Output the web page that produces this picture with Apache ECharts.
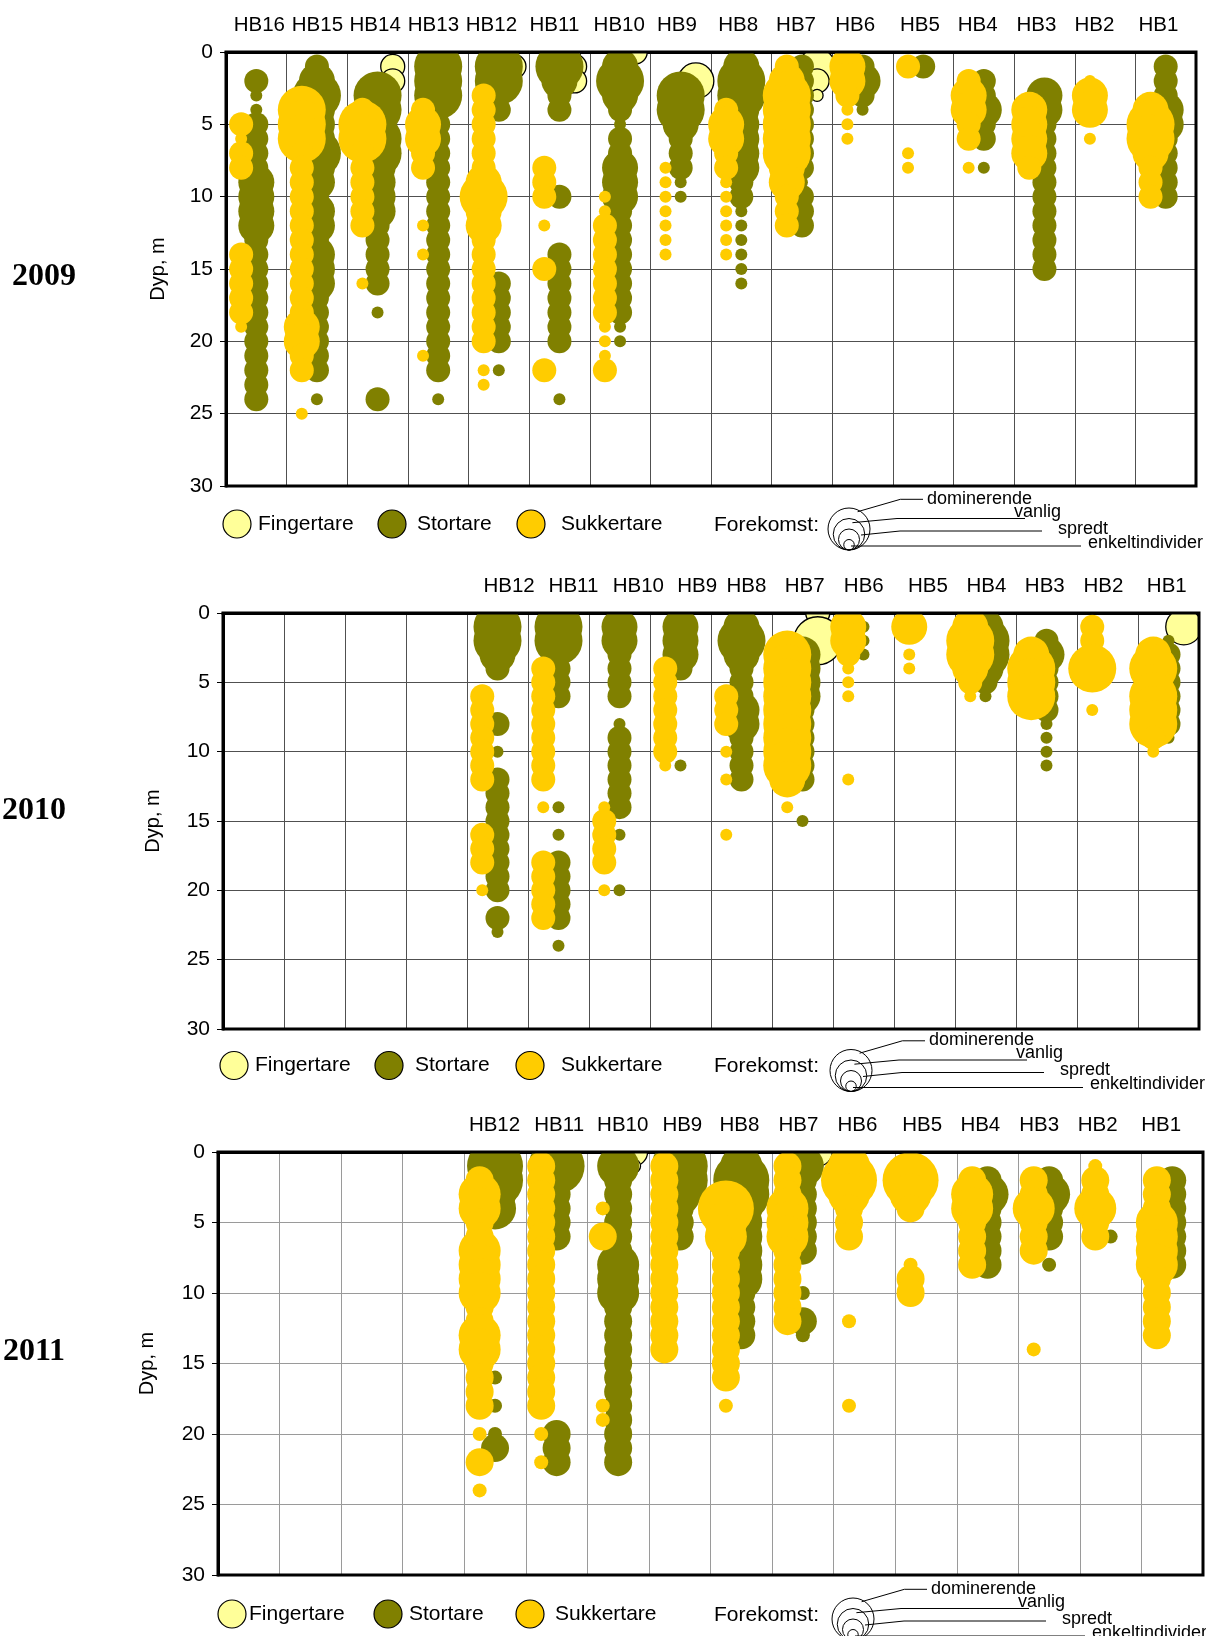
<!DOCTYPE html>
<html><head><meta charset="utf-8">
<script src="https://cdn.jsdelivr.net/npm/echarts@6/dist/echarts.min.js"></script>
<style>html,body{margin:0;padding:0;background:#fff}#c{width:1206px;height:1636px}</style>
</head><body><div id="c"></div><script>
// ---------------- DATA ----------------
const stations = ['HB16','HB15','HB14','HB13','HB12','HB11','HB10','HB9','HB8','HB7','HB6','HB5','HB4','HB3','HB2','HB1'];
const labels2009 = ['HB16','HB15','HB14','HB13','HB12','HB11','HB10','HB9','HB8','HB7','HB6','HB5','HB4','HB3','HB2','HB1'];
const labels2010 = ['','','','','HB12','HB11','HB10','HB9','HB8','HB7','HB6','HB5','HB4','HB3','HB2','HB1'];
const labels2011 = ['','','','','HB12','HB11','HB10','HB9','HB8','HB7','HB6','HB5','HB4','HB3','HB2','HB1'];
const depthTicks = [0,5,10,15,20,25,30];
const years = ['2009','2010','2011'];
const speciesNames = ['Fingertare','Stortare','Sukkertare'];
const levelNames = ['dominerende','vanlig','spredt','enkeltindivider']; // level 4,3,2,1
// [station, [[depth m, level 1..4], ...]]  level: 1 enkeltindivider, 2 spredt, 3 vanlig, 4 dominerende
const finger2009 = [
 ['HB14',[[1,2],[2,2]]], ['HB12',[[1,2]]], ['HB11',[[0,1],[1,2],[2,2]]], ['HB10',[[0,2]]],
 ['HB9',[[2,3]]], ['HB7',[[1,3],[2,2],[3,1]]]
];
const stortare2009 = [
 ['HB16',[[2,2],[3,1],[4,1],[5,2],[6,2],[7,2],[8,2],[9,3],[10,3],[11,3],[12,3],[13,2],[14,2],[15,2],[16,2],[17,2],[18,2],[19,2],[20,2],[21,2],[22,2],[23,2],[24,2]]],
 ['HB15',[[1,2],[2,3],[3,4],[4,3],[5,3],[6,3],[7,4],[8,3],[9,3],[10,2],[11,3],[12,3],[13,2],[14,3],[15,3],[16,3],[17,2],[18,2],[19,2],[20,2],[21,2],[22,2],[24,1]]],
 ['HB14',[[3,4],[4,4],[5,3],[6,4],[7,4],[8,3],[9,3],[10,3],[11,3],[12,2],[13,2],[14,2],[15,2],[16,2],[18,1],[24,2]]],
 ['HB13',[[1,4],[2,4],[3,4],[4,2],[5,2],[6,2],[7,2],[8,2],[9,2],[10,2],[11,2],[12,2],[13,2],[14,2],[15,2],[16,2],[17,2],[18,2],[19,2],[20,2],[21,2],[22,2],[24,1]]],
 ['HB12',[[1,4],[2,4],[3,2],[4,2],[16,2],[17,2],[18,2],[19,2],[20,2],[22,1]]],
 ['HB11',[[1,4],[2,3],[3,2],[4,2],[10,2],[14,2],[15,2],[16,2],[17,2],[18,2],[19,2],[20,2],[24,1]]],
 ['HB10',[[1,3],[2,4],[3,3],[4,2],[5,1],[6,2],[7,2],[8,3],[9,3],[10,3],[11,2],[12,2],[13,2],[14,2],[15,2],[16,2],[17,2],[18,2],[19,1],[20,1]]],
 ['HB9',[[3,4],[4,4],[5,3],[6,2],[7,2],[8,2],[9,1],[10,1]]],
 ['HB8',[[1,3],[2,4],[3,4],[4,3],[5,3],[6,3],[7,3],[8,3],[9,2],[10,2],[11,1],[12,1],[13,1],[14,1],[15,1],[16,1]]],
 ['HB7',[[1,2],[2,2],[3,2],[4,2],[5,2],[6,2],[7,2],[8,2],[9,1],[10,2],[11,2],[12,2]]],
 ['HB6',[[1,2],[2,3],[3,2],[4,1]]],
 ['HB5',[[1,2]]],
 ['HB4',[[2,2],[3,2],[4,3],[5,2],[6,2],[8,1]]],
 ['HB3',[[3,3],[4,3],[5,2],[6,2],[7,2],[8,2],[9,2],[10,2],[11,2],[12,2],[13,2],[14,2],[15,2]]],
 ['HB1',[[1,2],[2,2],[3,2],[4,3],[5,3],[6,2],[7,2],[8,2],[9,2],[10,2]]]
];
const sukker2009 = [
 ['HB16',[[5,2],[6,1],[7,2],[8,2],[14,2],[15,2],[16,2],[17,2],[18,2],[19,1]]],
 ['HB15',[[4,4],[5,4],[6,4],[7,2],[8,2],[9,2],[10,2],[11,2],[12,2],[13,2],[14,2],[15,2],[16,2],[17,2],[18,2],[19,3],[20,3],[21,2],[22,2],[25,1]]],
 ['HB14',[[4,2],[5,4],[6,4],[7,2],[8,2],[9,2],[10,2],[11,2],[12,2],[16,1]]],
 ['HB13',[[4,2],[5,3],[6,3],[7,2],[8,2],[12,1],[14,1],[21,1]]],
 ['HB12',[[3,2],[4,2],[5,2],[6,2],[7,2],[8,2],[9,3],[10,4],[11,3],[12,3],[13,2],[14,2],[15,2],[16,2],[17,2],[18,2],[19,2],[20,2],[22,1],[23,1]]],
 ['HB11',[[8,2],[9,2],[10,2],[12,1],[15,2],[22,2]]],
 ['HB10',[[10,1],[11,1],[12,2],[13,2],[14,2],[15,2],[16,2],[17,2],[18,2],[19,1],[20,1],[21,1],[22,2]]],
 ['HB9',[[8,1],[9,1],[10,1],[11,1],[12,1],[13,1],[14,1]]],
 ['HB8',[[4,2],[5,3],[6,3],[7,2],[8,2],[9,1],[10,1],[11,1],[12,1],[13,1],[14,1]]],
 ['HB7',[[1,2],[2,3],[3,4],[4,4],[5,4],[6,4],[7,4],[8,3],[9,3],[10,2],[11,2],[12,2]]],
 ['HB6',[[0,2],[1,3],[2,3],[3,2],[4,1],[5,1],[6,1]]],
 ['HB5',[[1,2],[7,1],[8,1]]],
 ['HB4',[[2,2],[3,3],[4,3],[5,2],[6,2],[8,1]]],
 ['HB3',[[4,3],[5,3],[6,3],[7,3],[8,2]]],
 ['HB2',[[2,1],[3,3],[4,3],[6,1]]],
 ['HB1',[[4,3],[5,4],[6,4],[7,3],[8,2],[9,2],[10,2]]]
];
const finger2010 = [
 ['HB7',[[0,2],[2,4]]], ['HB1',[[1,3]]]
];
const stortare2010 = [
 ['HB12',[[1,4],[2,4],[3,3],[4,2],[8,2],[10,1],[12,2],[13,2],[14,2],[15,2],[16,2],[17,2],[18,2],[19,2],[20,2],[22,2],[23,1]]],
 ['HB11',[[1,4],[2,4],[3,2],[4,2],[5,2],[6,2],[14,1],[16,1],[18,2],[19,2],[20,2],[21,2],[22,2],[24,1]]],
 ['HB10',[[1,3],[2,3],[3,2],[4,2],[5,2],[6,2],[8,1],[9,2],[10,2],[11,2],[12,2],[13,2],[14,2],[16,1],[20,1]]],
 ['HB9',[[1,3],[2,3],[3,3],[4,2],[11,1]]],
 ['HB8',[[1,3],[2,4],[3,3],[4,2],[5,2],[6,2],[7,3],[8,3],[9,2],[10,2],[11,2],[12,2]]],
 ['HB7',[[3,3],[4,3],[5,3],[6,3],[7,2],[8,2],[9,2],[10,2],[11,2],[12,2],[15,1]]],
 ['HB6',[[1,1],[2,1],[3,1]]],
 ['HB4',[[1,3],[2,4],[3,4],[4,3],[5,2],[6,1]]],
 ['HB3',[[2,2],[3,3],[4,2],[5,2],[6,2],[7,2],[8,1],[9,1],[10,1],[11,1]]],
 ['HB1',[[2,1],[3,2],[4,2],[5,2],[6,2],[7,2],[8,2],[9,1]]]
];
const sukker2010 = [
 ['HB12',[[6,2],[7,2],[8,2],[9,2],[10,2],[11,2],[12,2],[16,2],[17,2],[18,2],[20,1]]],
 ['HB11',[[4,2],[5,2],[6,2],[7,2],[8,2],[9,2],[10,2],[11,2],[12,2],[14,1],[18,2],[19,2],[20,2],[21,2],[22,2]]],
 ['HB10',[[14,1],[15,2],[16,2],[17,2],[18,2],[20,1]]],
 ['HB9',[[4,2],[5,2],[6,2],[7,2],[8,2],[9,2],[10,2],[11,1]]],
 ['HB8',[[6,2],[7,2],[8,2],[10,1],[12,1],[16,1]]],
 ['HB7',[[3,4],[4,4],[5,4],[6,4],[7,4],[8,4],[9,4],[10,4],[11,4],[12,3],[14,1]]],
 ['HB6',[[1,3],[2,3],[3,2],[4,1],[5,1],[6,1],[12,1]]],
 ['HB5',[[1,3],[3,1],[4,1]]],
 ['HB4',[[1,3],[2,4],[3,4],[4,3],[5,2],[6,1]]],
 ['HB3',[[3,3],[4,4],[5,4],[6,4]]],
 ['HB2',[[1,2],[2,2],[3,2],[4,4],[7,1]]],
 ['HB1',[[3,3],[4,4],[5,3],[6,4],[7,4],[8,4],[9,2],[10,1]]]
];
const finger2011 = [
 ['HB10',[[0,2],[1,1]]], ['HB7',[[0,2]]]
];
const stortare2011 = [
 ['HB12',[[1,4],[2,4],[3,3],[4,3],[16,1],[18,1],[20,1],[21,2]]],
 ['HB11',[[1,4],[2,2],[3,2],[4,2],[5,2],[6,2],[20,2],[21,2],[22,2]]],
 ['HB10',[[1,3],[2,2],[3,2],[4,2],[5,2],[6,2],[7,2],[8,3],[9,3],[10,3],[11,2],[12,2],[13,2],[14,2],[15,2],[16,2],[17,2],[18,2],[19,2],[20,2],[21,2],[22,2]]],
 ['HB9',[[1,4],[2,4],[3,3],[4,2],[5,2],[6,2]]],
 ['HB8',[[1,3],[2,4],[3,4],[4,3],[5,3],[6,3],[7,3],[8,3],[9,3],[10,2],[11,2],[12,2],[13,2]]],
 ['HB7',[[1,3],[2,2],[3,2],[4,2],[5,2],[6,2],[7,2],[10,1],[12,2],[13,1]]],
 ['HB4',[[2,2],[3,3],[4,2],[5,2],[6,2],[7,2],[8,2]]],
 ['HB3',[[2,2],[3,3],[4,2],[5,2],[6,2],[8,1]]],
 ['HB2',[[6,1]]],
 ['HB1',[[2,2],[3,2],[4,2],[5,2],[6,2],[7,2],[8,2]]]
];
const sukker2011 = [
 ['HB12',[[2,2],[3,3],[4,3],[5,2],[6,2],[7,3],[8,3],[9,3],[10,3],[11,2],[12,2],[13,3],[14,3],[15,2],[16,2],[17,2],[18,2],[20,1],[22,2],[24,1]]],
 ['HB11',[[1,2],[2,2],[3,2],[4,2],[5,2],[6,2],[7,2],[8,2],[9,2],[10,2],[11,2],[12,2],[13,2],[14,2],[15,2],[16,2],[17,2],[18,2],[20,1],[22,1]]],
 ['HB10',[[4,1],[6,2],[18,1],[19,1]]],
 ['HB9',[[1,2],[2,2],[3,2],[4,2],[5,2],[6,2],[7,2],[8,2],[9,2],[10,2],[11,2],[12,2],[13,2],[14,2]]],
 ['HB8',[[4,4],[5,3],[6,3],[7,2],[8,2],[9,2],[10,2],[11,2],[12,2],[13,2],[14,2],[15,2],[16,2],[18,1]]],
 ['HB7',[[1,2],[2,2],[3,2],[4,3],[5,3],[6,3],[7,2],[8,2],[9,2],[10,2],[11,2],[12,2]]],
 ['HB6',[[1,3],[2,4],[3,3],[4,2],[5,2],[6,2],[12,1],[18,1]]],
 ['HB5',[[2,4],[3,3],[4,2],[8,1],[9,2],[10,2]]],
 ['HB4',[[2,2],[3,3],[4,3],[5,2],[6,2],[7,2],[8,2]]],
 ['HB3',[[2,2],[3,2],[4,3],[5,2],[6,2],[7,2],[14,1]]],
 ['HB2',[[1,1],[2,2],[3,2],[4,3],[5,2],[6,2]]],
 ['HB1',[[2,2],[3,2],[4,2],[5,3],[6,3],[7,3],[8,3],[9,2],[10,2],[11,2],[12,2],[13,2]]]
];

// ---------------- STYLE / LAYOUT ----------------
const FONT = '"Liberation Sans", Arial, sans-serif';
const speciesStyle = [
  {offset:0.75, color:'#FFFF99', border:'#000', bw:1.3, z:2},
  {offset:0.5,  color:'#808000', border:null, bw:0, z:3},
  {offset:0.25, color:'#FFCC00', border:null, bw:0, z:4}
];
// horizontal nudges (px) of the top station labels, as placed in the original
const labelShift2009 = [3,0.5,-2.4,-4.8,-7.4,-5,-0.8,-3.7,-3.2,-5.9,-7.4,-3.3,-6.2,-8.1,-10.6,-7.3];
const labelShift2010 = [0,0,0,0,11.6,15,18.8,16.7,5,2.1,0.3,3.4,0.9,-1.7,-4,-1.7];
const labelShift2011 = [0,0,0,0,-0.5,2.6,4.6,2.6,-1.8,-4.5,-6.9,-3.8,-7.2,-9.9,-13,-11];
const panels = [
  {grid:{left:226,top:52,width:970,height:434}, labels:labels2009, shift:labelShift2009, sets:[finger2009,stortare2009,sukker2009], sizes:[12,24,36,48], gc:'#505050', nameGap:58,
   year:{x:44,y:277}, leg:{y:524, fc:[237,392,531], ft:[258,417,561], dx:0}},
  {grid:{left:223,top:613,width:976,height:416}, labels:labels2010, shift:labelShift2010, sets:[finger2010,stortare2010,sukker2010], sizes:[12,24,36,48], gc:'#505050', nameGap:60,
   year:{x:34,y:811}, leg:{y:1065.5, fc:[234,389,530], ft:[255,415,561], dx:2}},
  {grid:{left:218,top:1152,width:985,height:423}, labels:labels2011, shift:labelShift2011, sets:[finger2011,stortare2011,sukker2011], sizes:[14,28,42,56], gc:'#9a9a9a', nameGap:61,
   year:{x:34,y:1352}, leg:{y:1614, fc:[232,388,530], ft:[249,409,555], dx:4}}
];

const grids=[], xAxes=[], yAxes=[], series=[], graphics=[];
panels.forEach((P,p)=>{
  grids.push(Object.assign({containLabel:false}, P.grid));
  xAxes.push({gridIndex:p, type:'value', min:0, max:16, interval:1, position:'bottom',
    axisLabel:{show:false}, axisTick:{show:false},
    axisLine:{show:true, lineStyle:{color:'#000', width:3}},
    splitLine:{show:true, lineStyle:{color:P.gc, width:1}}});
  const catData = P.labels.map((t,i)=>{
    const s = P.shift[i]||0;
    const pad = s>=0 ? [0,0,0,2*s] : [0,-2*s,0,0];
    return {value:t, textStyle:{padding:pad}};
  });
  xAxes.push({gridIndex:p, type:'category', position:'top', data:catData, boundaryGap:true,
    axisLine:{show:true, lineStyle:{color:'#000', width:3}}, axisTick:{show:false},
    splitLine:{show:false},
    axisLabel:{interval:0, fontSize:20.5, color:'#000', fontFamily:FONT, margin:16}});
  yAxes.push({gridIndex:p, type:'value', min:depthTicks[0], max:depthTicks[depthTicks.length-1], interval:5, inverse:true,
    axisLine:{show:true, lineStyle:{color:'#000', width:3}},
    axisTick:{show:true, length:6, lineStyle:{color:'#000', width:1}},
    axisLabel:{color:'#000', fontSize:21, fontFamily:FONT, margin:13},
    splitLine:{show:true, lineStyle:{color:P.gc, width:1}},
    name:'Dyp, m', nameLocation:'middle', nameRotate:90, nameGap:P.nameGap,
    nameTextStyle:{fontSize:20, color:'#000', fontFamily:FONT}});
  P.sets.forEach((set,k)=>{
    const st = speciesStyle[k];
    const data=[];
    set.forEach(([name,rows])=>{
      const xi = stations.indexOf(name);
      rows.forEach(([d,l])=>data.push([xi+st.offset, d, l]));
    });
    const sz = P.sizes;
    series.push({type:'scatter', name:speciesNames[k], xAxisIndex:2*p, yAxisIndex:p, data,
      symbol:'circle', symbolSize:(v)=>sz[v[2]-1], z:st.z, silent:true, animation:false,
      itemStyle:{color:st.color, opacity:1, borderColor:st.border||st.color, borderWidth:st.bw},
      emphasis:{disabled:true}});
  });
  // masks to clip bubble overflow + frame
  const g=P.grid, L=g.left, T=g.top, R=g.left+g.width, B=g.top+g.height;
  graphics.push({type:'rect', shape:{x:L-2, y:T-16, width:g.width+16, height:15}, style:{fill:'#fff'}, z:50, silent:true});
  graphics.push({type:'rect', shape:{x:R+1, y:T-16, width:14, height:g.height+17}, style:{fill:'#fff'}, z:50, silent:true});
  graphics.push({type:'rect', shape:{x:L, y:T, width:g.width, height:g.height}, style:{fill:null, stroke:'#000', lineWidth:3}, z:60, silent:true});
  // year label
  graphics.push({type:'text', x:P.year.x, y:P.year.y, z:60, style:{text:years[p], font:'bold 32px "Liberation Serif", "Times New Roman", serif', fill:'#000', align:'center', verticalAlign:'middle', textAlign:'center', textVerticalAlign:'middle'}});
  // legend: species
  const lg=P.leg, cy=lg.y;
  speciesStyle.forEach((st,k)=>{
    graphics.push({type:'circle', shape:{cx:lg.fc[k], cy:cy, r:14}, style:{fill:st.color, stroke:'#000', lineWidth:1.2}, z:60, silent:true});
    graphics.push({type:'text', x:lg.ft[k], y:cy, z:60, style:{text:speciesNames[k], font:'21px '+FONT, fill:'#000', verticalAlign:'middle', textVerticalAlign:'middle'}});
  });
  graphics.push({type:'text', x:714, y:cy+1, z:60, style:{text:'Forekomst:', font:'21px '+FONT, fill:'#000', verticalAlign:'middle', textVerticalAlign:'middle'}});
  // nested size circles
  const dx=lg.dx, dy=cy-524;
  const ccx=849+dx, cb=550+dy;
  [21,15.75,10.5,5.25].forEach(r=>{
    graphics.push({type:'circle', shape:{cx:ccx, cy:cb-r, r:r}, style:{fill:null, stroke:'#000', lineWidth:1}, z:60, silent:true});
  });
  const lines=[
    [[857.6,511.7],[900.4,499.3],[923,499.3]],
    [[852.4,522.7],[897,518.5],[1025,518.5]],
    [[861,535],[900,531],[1042,531]],
    [[851,546],[1081,546]]
  ];
  lines.forEach(pts=>graphics.push({type:'polyline', shape:{points:pts.map(q=>[q[0]+dx,q[1]+dy])}, style:{stroke:'#000', lineWidth:1, fill:null}, z:60, silent:true}));
  const lt=[[927,499,'dominerende'],[1014,512,'vanlig'],[1058,529,'spredt'],[1088,543,'enkeltindivider']];
  lt.forEach(([x,y,t])=>graphics.push({type:'text', x:x+dx, y:y+dy, z:60, style:{text:t, font:'18px '+FONT, fill:'#000', verticalAlign:'middle', textVerticalAlign:'middle'}}));
});

const chart = echarts.init(document.getElementById('c'), null, {renderer:'canvas', width:1206, height:1636});
chart.setOption({
  backgroundColor:'#fff', animation:false,
  grid:grids, xAxis:xAxes, yAxis:yAxes, series:series, graphic:{elements:graphics}
});
</script></body></html>
